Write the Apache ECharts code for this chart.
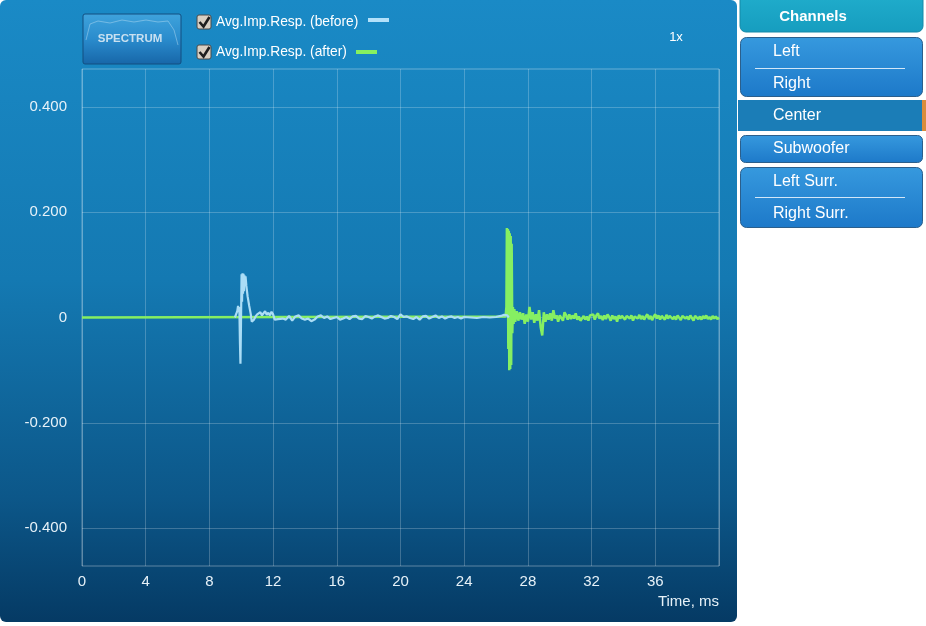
<!DOCTYPE html>
<html><head><meta charset="utf-8">
<script src="https://cdn.jsdelivr.net/npm/echarts@6/dist/echarts.min.js"></script>
<style>html,body{margin:0;padding:0;background:#fff}#c{width:926px;height:626px}</style>
</head><body><div id="c"></div>
<script>
// ---- data ----
const xTickLabels = ['0','4','8','12','16','20','24','28','32','36','40'];
const yTickLabels = ['-0.400','-0.200','0','0.200','0.400'];
const legendNames = ['Avg.Imp.Resp. (before)', 'Avg.Imp.Resp. (after)'];
const channels = ['Left', 'Right', 'Center', 'Subwoofer', 'Left Surr.', 'Right Surr.'];

const beforeT = [9.6,9.7,9.75,9.8,9.85,9.88,9.92,9.95,9.98,10.02,10.05,10.08,10.11,10.14,10.17,10.2,10.23,10.27,10.32,10.4,10.5,10.6,10.66,10.72,10.8,10.9,
  11.0,11.1,11.2,11.3,11.4,11.5,11.6,11.7,11.8,11.9,12.0,12.1,12.2,12.3,12.4,12.6,12.8,13.0,13.2,13.4,13.6,13.8,
  14.0,14.2,14.4,14.6,14.8,15.0,15.2,15.4,15.6,15.8,16.0,16.2,16.4,16.6,16.8,17.0,17.2,17.4,17.6,17.8,
  18.0,18.2,18.4,18.6,18.8,19.0,19.2,19.4,19.6,19.8,20.0,20.2,20.4,20.6,20.8,21.0,21.2,21.4,21.6,21.8,
  22.0,22.2,22.4,22.6,22.8,23.0,23.2,23.4,23.6,23.8,24.0,24.4,24.8,25.2,25.6,26.0,26.3,26.5,26.7,26.8];
const beforeV = [0,0.002,0.012,0.022,0.01,0.02,-0.05,-0.088,-0.02,0.082,0.03,0.084,0.045,0.083,0.05,0.08,0.06,0.078,0.06,0.04,0.022,0.006,-0.008,-0.01,-0.004,0.002,
  0.006,0.003,0.01,0.004,0.008,0.012,0.005,0.009,0.004,0.011,0.006,-0.004,-0.006,-0.003,-0.005,-0.002,-0.004,0.003,-0.006,0.002,0.004,-0.002,
  -0.004,-0.002,-0.007,-0.004,0.002,0.004,-0.001,0.002,-0.003,-0.001,0.001,-0.004,-0.002,0.001,-0.003,0.002,0.003,-0.002,-0.003,0.003,
  0.001,-0.002,0.002,0.004,0.001,-0.002,-0.001,0.003,0.001,-0.003,0.006,0.001,0.002,-0.001,-0.003,0.001,-0.004,0.002,0.003,-0.002,
  0.001,0.004,-0.001,0.002,-0.002,0.001,0.002,-0.001,0.001,-0.002,0.001,0,-0.001,0.001,0,0.001,0.003,0.005,0.004,0];

const afterT = [0,26.6,26.65,26.68,26.71,26.74,26.77,26.8,26.83,26.86,26.89,26.92,26.95,26.98,27.02,27.06,27.1,27.15,27.2,27.3,27.4,27.5,27.6,27.7,27.8,27.9,
  28.0,28.1,28.2,28.3,28.4,28.5,28.6,28.7,28.8,28.9,29.0,29.1,29.2,29.3,29.4,29.5,29.6,29.7,29.8,29.9,
  30.0,30.1,30.2,30.3,30.4,30.5,30.6,30.7,30.8,30.9,31.0,31.1,31.2,31.3,31.4,31.5,31.6,31.7,31.8,31.9,
  32.0,32.1,32.2,32.3,32.4,32.5,32.6,32.7,32.8,32.9,33.0,33.1,33.2,33.3,33.4,33.5,33.6,33.7,33.8,33.9,
  34.0,34.1,34.2,34.3,34.4,34.5,34.6,34.7,34.8,34.9,35.0,35.1,35.2,35.3,35.4,35.5,35.6,35.7,35.8,35.9,
  36.0,36.1,36.2,36.3,36.4,36.5,36.6,36.7,36.8,36.9,37.0,37.1,37.2,37.3,37.4,37.5,37.6,37.7,37.8,37.9,
  38.0,38.1,38.2,38.3,38.4,38.5,38.6,38.7,38.8,38.9,39.0,39.1,39.2,39.3,39.4,39.5,39.6,39.7,39.8,39.9,40.0];
const afterV = [0,0.002,0.02,0.17,0.02,0.168,-0.06,0.165,-0.1,0.16,-0.098,0.155,-0.09,0.14,-0.03,0.02,-0.012,0.016,-0.008,0.012,-0.006,0.01,-0.004,0.008,-0.012,0.006,
  -0.008,0.02,-0.004,0.01,-0.01,0.006,-0.006,0.014,-0.018,-0.034,0.01,-0.008,0.006,-0.004,0.008,-0.006,0.014,-0.002,0.004,-0.008,
  0.004,0.002,-0.006,0.01,0.004,-0.004,0.006,-0.003,0.004,-0.002,0.008,-0.004,0.002,-0.006,-0.002,0.003,-0.004,0.002,-0.006,0.004,
  0.002,0.006,-0.004,0.004,0.008,-0.002,0.003,-0.005,0.004,-0.003,0.006,0.001,-0.006,0.004,-0.003,0.002,-0.008,0.004,-0.002,0.003,
  0.001,-0.004,0.003,0.006,-0.002,0.004,-0.006,0.002,0.004,-0.002,0.005,-0.003,0.003,-0.004,0.002,0.006,-0.003,0.003,-0.005,0.002,
  0.006,-0.002,0.004,-0.004,0.003,0.001,-0.004,0.005,-0.002,0.003,0.006,-0.003,0.002,-0.004,0.004,0.001,-0.005,0.003,0.006,-0.002,
  0.002,-0.004,0.004,0.001,-0.006,0.003,0.005,-0.003,0.002,-0.004,0.003,-0.002,0.004,-0.003,0.001,-0.004,0.003,-0.002,0.002,-0.003,0];

// ---- build ----
const beforeData = beforeT.map((t, i) => [t, beforeV[i]]);
const afterData = afterT.map((t, i) => [t, afterV[i]]);
const FONT = '"Liberation Sans", Arial, Helvetica, sans-serif';
const gridLine = 'rgba(255,255,255,0.22)';

function btnGrad() {
  return new echarts.graphic.LinearGradient(0, 0, 0, 1, [
    { offset: 0, color: '#3699de' }, { offset: 1, color: '#1d79c9' }]);
}
function chText(name, x, y) {
  return { type: 'text', x: x, y: y, z: 10,
    style: { text: name, fill: '#ffffff', font: '16px ' + FONT, verticalAlign: 'middle' } };
}
function checkbox(y) {
  return [
    { type: 'rect', shape: { x: 197, y: y, width: 14, height: 14, r: 2 }, z: 5,
      style: { fill: '#d8cfc2', stroke: '#4a4a4a', lineWidth: 1 } },
    { type: 'polyline', shape: { points: [[199.5, y + 7], [203.5, y + 11.5], [209.5, y + 2]] }, z: 6,
      style: { stroke: '#1e1e1e', lineWidth: 2.6, fill: null } }
  ];
}

const graphic = [
  // chart panel background
  { type: 'rect', shape: { x: 0, y: 0, width: 737, height: 622, r: 6 }, z: -100,
    style: { fill: new echarts.graphic.LinearGradient(0, 0, 0, 1, [
      { offset: 0, color: '#1a8ac6' }, { offset: 0.45, color: '#1479b2' },
      { offset: 0.8, color: '#0c5789' }, { offset: 1, color: '#053a64' }]) } },
  // spectrum button
  { type: 'rect', shape: { x: 83, y: 14, width: 98, height: 50, r: 2 }, z: 5,
    style: { fill: new echarts.graphic.LinearGradient(0, 0, 0, 1, [
      { offset: 0, color: '#3fa3dc' }, { offset: 0.5, color: '#2a8ccd' }, { offset: 1, color: '#1766a8' }]),
      stroke: '#124f80', lineWidth: 1 } },
  { type: 'polyline', shape: { points: [[86, 40], [90, 24], [98, 21], [110, 23], [122, 20], [134, 22], [146, 20], [158, 22], [168, 21], [174, 30], [178, 45]] }, z: 6,
    style: { stroke: 'rgba(190,225,245,0.45)', lineWidth: 1, fill: null } },
  { type: 'text', x: 130, y: 39, z: 7,
    style: { text: 'SPECTRUM', fill: '#c9e0f0', font: 'bold 11.5px ' + FONT, align: 'center', verticalAlign: 'middle' } },
  ...checkbox(15),
  ...checkbox(45),
  { type: 'text', x: 216, y: 22, z: 5,
    style: { text: legendNames[0], fill: '#ffffff', font: '13.8px ' + FONT, verticalAlign: 'middle' } },
  { type: 'rect', shape: { x: 368, y: 18, width: 21, height: 4 }, z: 5, style: { fill: '#b3e1fa' } },
  { type: 'text', x: 216, y: 52, z: 5,
    style: { text: legendNames[1], fill: '#ffffff', font: '13.8px ' + FONT, verticalAlign: 'middle' } },
  { type: 'rect', shape: { x: 356, y: 50, width: 21, height: 4 }, z: 5, style: { fill: '#86f060' } },
  { type: 'text', x: 676, y: 37, z: 5,
    style: { text: '1x', fill: '#ffffff', font: '13px ' + FONT, align: 'center', verticalAlign: 'middle' } },
  { type: 'text', x: 719, y: 602, z: 5,
    style: { text: 'Time, ms', fill: '#e6f1f8', font: '15px ' + FONT, align: 'right', verticalAlign: 'middle' } },

  // right panel
  { type: 'rect', shape: { x: 740, y: -6, width: 183, height: 38, r: 6 }, z: 5,
    style: { fill: new echarts.graphic.LinearGradient(0, 0, 0, 1, [
      { offset: 0, color: '#20adcc' }, { offset: 1, color: '#169dbf' }]), stroke: '#1589a8', lineWidth: 1 } },
  { type: 'text', x: 813, y: 17, z: 6,
    style: { text: 'Channels', fill: '#ffffff', font: 'bold 15px ' + FONT, align: 'center', verticalAlign: 'middle' } },
  { type: 'rect', shape: { x: 740.5, y: 37.5, width: 182, height: 59, r: 6 }, z: 5,
    style: { fill: btnGrad(), stroke: '#2b5f8c', lineWidth: 1 } },
  { type: 'line', shape: { x1: 755, y1: 68.5, x2: 905, y2: 68.5 }, z: 6, style: { stroke: 'rgba(230,242,252,0.9)', lineWidth: 1 } },
  chText(channels[0], 773, 52),
  chText(channels[1], 773, 84),
  { type: 'rect', shape: { x: 738, y: 100, width: 188, height: 31 }, z: 5, style: { fill: '#1b7db7' } },
  { type: 'rect', shape: { x: 922, y: 100, width: 4, height: 31 }, z: 6, style: { fill: '#d98c3d' } },
  chText(channels[2], 773, 116),
  { type: 'rect', shape: { x: 740.5, y: 135.5, width: 182, height: 27, r: 5 }, z: 5,
    style: { fill: btnGrad(), stroke: '#2b5f8c', lineWidth: 1 } },
  chText(channels[3], 773, 149),
  { type: 'rect', shape: { x: 740.5, y: 167.5, width: 182, height: 60, r: 6 }, z: 5,
    style: { fill: btnGrad(), stroke: '#2b5f8c', lineWidth: 1 } },
  { type: 'line', shape: { x1: 755, y1: 197.5, x2: 905, y2: 197.5 }, z: 6, style: { stroke: 'rgba(230,242,252,0.9)', lineWidth: 1 } },
  chText(channels[4], 773, 182),
  chText(channels[5], 773, 214)
];

const option = {
  backgroundColor: '#ffffff',
  animation: false,
  textStyle: { fontFamily: FONT },
  graphic: graphic,
  grid: [
    { left: 82, right: 207, top: 69, bottom: 60, show: true, borderColor: 'rgba(255,255,255,0.35)', borderWidth: 1, backgroundColor: 'transparent' },
    { left: 82, right: 207, top: 107, bottom: 98, show: false }
  ],
  xAxis: [
    { type: 'value', gridIndex: 0, min: 0, max: 40, interval: 4,
      axisLine: { show: false }, axisTick: { show: false },
      splitLine: { show: true, lineStyle: { color: gridLine, width: 1 } },
      axisLabel: { color: '#e6f1f8', fontSize: 15, margin: 8, showMaxLabel: false,
        formatter: v => xTickLabels[Math.round(v / 4)] } },
    { type: 'value', gridIndex: 1, min: 0, max: 40, show: false, splitLine: { show: false } }
  ],
  yAxis: [
    { type: 'value', gridIndex: 0, min: -0.472, max: 0.472,
      axisLine: { show: false }, axisTick: { show: false }, axisLabel: { show: false }, splitLine: { show: false } },
    { type: 'value', gridIndex: 1, min: -0.4, max: 0.4, interval: 0.2,
      axisLine: { show: false }, axisTick: { show: false },
      splitLine: { show: true, lineStyle: { color: gridLine, width: 1 } },
      axisLabel: { color: '#e6f1f8', fontSize: 15, margin: 15,
        formatter: v => yTickLabels[Math.round((v + 0.4) / 0.2)] } }
  ],
  series: [
    { name: legendNames[1], type: 'line', xAxisIndex: 0, yAxisIndex: 0, data: afterData,
      showSymbol: false, symbol: 'none', z: 3, lineStyle: { color: '#86ef62', width: 2.5 } },
    { name: legendNames[0], type: 'line', xAxisIndex: 0, yAxisIndex: 0, data: beforeData,
      showSymbol: false, symbol: 'none', z: 4, lineStyle: { color: '#abddf6', width: 2.2 } }
  ]
};

const chart = echarts.init(document.getElementById('c'));
chart.setOption(option);
</script>
</body></html>
